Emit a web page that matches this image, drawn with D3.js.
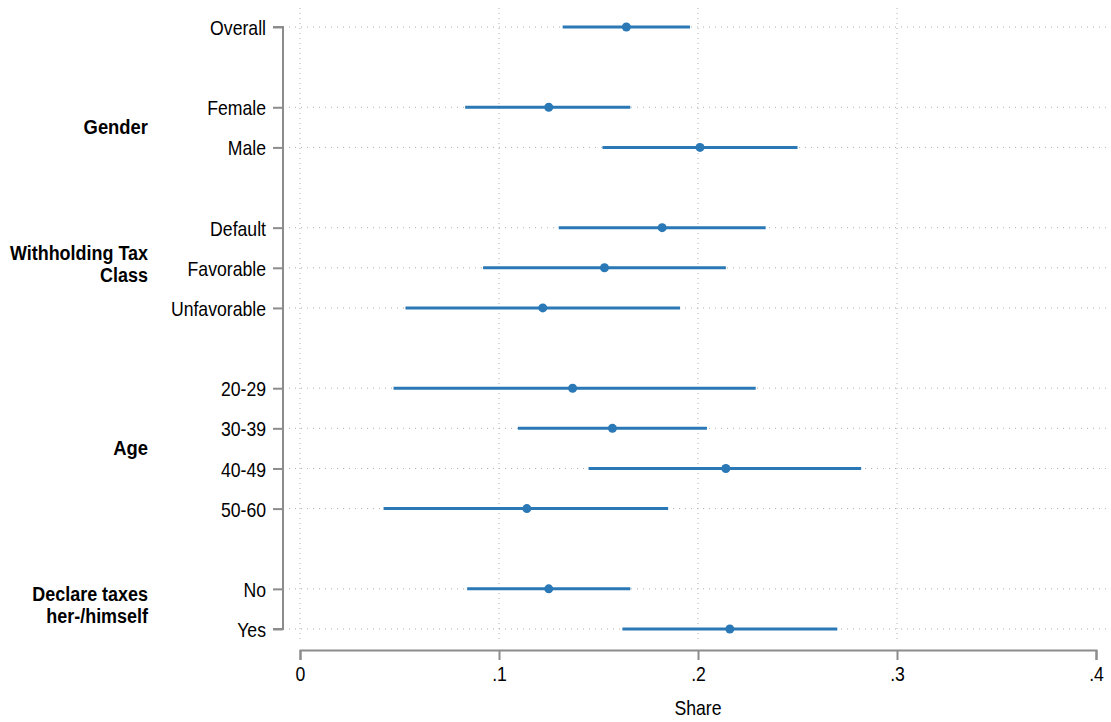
<!DOCTYPE html>
<html><head><meta charset="utf-8">
<script src="https://cdn.jsdelivr.net/npm/d3@7"></script>
<style>
body{margin:0;background:#fff;}
svg text{font-family:"Liberation Sans Narrow","Arial Narrow","Liberation Sans",sans-serif;fill:#000;}
</style></head>
<body><svg id="c" width="1111" height="722"></svg>
<script>
const categories = ["Overall","Female","Male","Default","Favorable","Unfavorable","20-29","30-39","40-49","50-60","No","Yes"];
const rowPositions = [0,2,3,5,6,7,9,10,11,12,14,15];
const estimates = [0.164,0.125,0.201,0.182,0.153,0.122,0.137,0.157,0.214,0.114,0.125,0.216];
const lowerCI   = [0.132,0.083,0.152,0.130,0.092,0.053,0.047,0.1095,0.145,0.042,0.084,0.162];
const upperCI   = [0.196,0.166,0.250,0.234,0.214,0.191,0.229,0.2045,0.282,0.185,0.166,0.270];
const groupLabels = [["Gender"],["Withholding Tax","Class"],["Age"],["Declare taxes","her-/himself"]];
const groupCenters = [2.5,6,10.5,14.5];
const xTicks = [0,0.1,0.2,0.3,0.4];
const xTickLabels = ["0",".1",".2",".3",".4"];

const svg = d3.select("#c");
const x = d3.scaleLinear().domain([0,0.4]).range([300,1096]);
const y = d3.scaleLinear().domain([0,15]).range([27,629]);
const blue = "#2a78b5";
const grey = "#8c8c8c";
const FS = 21;

// vertical gridlines
svg.append("g").selectAll("line").data(xTicks.slice(0,4)).join("line")
  .attr("x1",d=>x(d)).attr("x2",d=>x(d)).attr("y1",8).attr("y2",643)
  .attr("stroke","#b0b0b0").attr("stroke-width",1).attr("stroke-dasharray","1,4");
// horizontal gridlines
svg.append("g").selectAll("line").data(rowPositions).join("line")
  .attr("x1",289).attr("x2",1108).attr("y1",d=>y(d)).attr("y2",d=>y(d))
  .attr("stroke","#b0b0b0").attr("stroke-width",1).attr("stroke-dasharray","1,5");

// y axis
const yAxis = d3.axisLeft(y).tickValues(rowPositions).tickFormat((d,i)=>categories[i]).tickSize(10).tickPadding(7);
const gy = svg.append("g").attr("transform","translate(283,0)").call(yAxis);
gy.select(".domain").attr("stroke",grey).attr("stroke-width",2).attr("d",`M-10,${y(0)}H0V${y(15)}H-10`);
gy.selectAll(".tick line").attr("stroke",grey).attr("stroke-width",2);
gy.selectAll(".tick text").attr("font-size",FS).attr("font-family",null).attr("fill","#000").attr("dy","0.36em");

// x axis
const xAxis = d3.axisBottom(x).tickValues(xTicks).tickFormat((d,i)=>xTickLabels[i]).tickSize(10).tickPadding(6);
const gx = svg.append("g").attr("transform","translate(0,650)").call(xAxis);
gx.select(".domain").attr("stroke",grey).attr("stroke-width",2);
gx.selectAll(".tick line").attr("stroke",grey).attr("stroke-width",2);
gx.selectAll(".tick text").attr("font-size",FS).attr("font-family",null).attr("fill","#000");

svg.append("text").attr("x",x(0.2)).attr("y",715).attr("text-anchor","middle").attr("font-size",FS).text("Share");

// group labels
groupLabels.forEach((lines,gi)=>{
  const n = lines.length;
  lines.forEach((ln,li)=>{
    svg.append("text").attr("class","grp").attr("text-anchor","end").attr("font-weight","bold")
      .attr("font-size",n>1?19.5:20)
      .attr("x",148).attr("y",y(groupCenters[gi]) + (li-(n-1)/2)*22 + (n>1?3:7)).text(ln);
  });
});

// condense text to mimic narrow font
svg.selectAll("text").each(function(){
  const L = this.getComputedTextLength();
  const f = this.classList.contains("grp") ? 0.92 : 0.84;
  d3.select(this).attr("textLength",L*f).attr("lengthAdjust","spacingAndGlyphs");
});

// CI lines
const data = categories.map((c,i)=>({c,p:rowPositions[i],e:estimates[i],lo:lowerCI[i],hi:upperCI[i]}));
svg.append("g").selectAll("line").data(data).join("line")
  .attr("x1",d=>x(d.lo)).attr("x2",d=>x(d.hi)).attr("y1",d=>y(d.p)).attr("y2",d=>y(d.p))
  .attr("stroke",blue).attr("stroke-width",3);
svg.append("g").selectAll("circle").data(data).join("circle")
  .attr("cx",d=>x(d.e)).attr("cy",d=>y(d.p)).attr("r",4.5).attr("fill",blue);
</script></body></html>
